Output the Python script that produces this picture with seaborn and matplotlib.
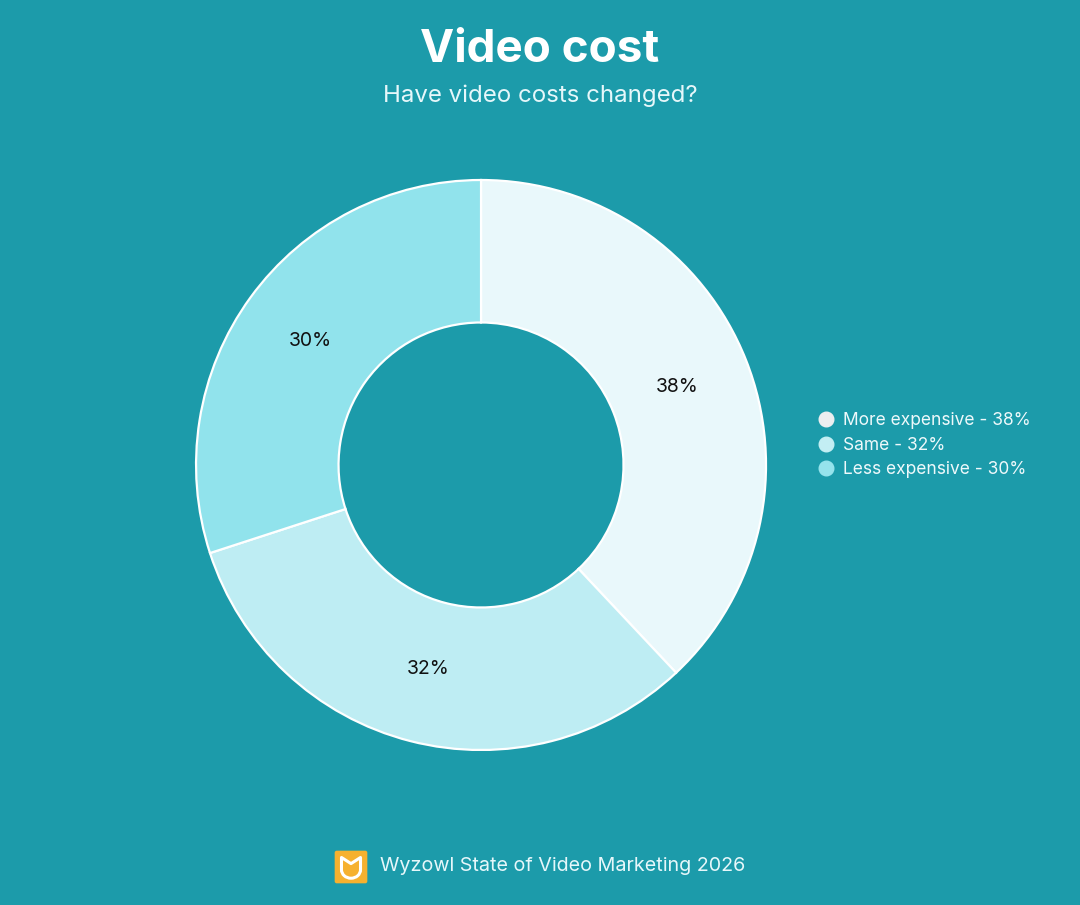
import numpy as np
import seaborn as sns
import matplotlib.pyplot as plt
from matplotlib.patches import FancyBboxPatch, Arc
from matplotlib.lines import Line2D

# data
categories = ['More expensive', 'Same', 'Less expensive']
shares = [38, 32, 30]
slice_colors = ['#E9F8FB', '#BEEDF3', '#91E3EC']
marker_colors = ['#ECEEF0', '#C3EEF3', '#95E3EC']

bg = '#1C9BAA'

sns.set_style('white', {'axes.facecolor': bg, 'figure.facecolor': bg})
plt.rcParams['font.family'] = ['Inter', 'DejaVu Sans']

fig = plt.figure(figsize=(10.8, 9.05), dpi=100)
fig.patch.set_facecolor(bg)

# donut
ax = fig.add_axes([0.1815, 0.1713, 0.5278, 0.6298])
palette = sns.color_palette(slice_colors)
wedges, texts, autotexts = ax.pie(
    shares, colors=palette, startangle=90, counterclock=False,
    autopct='%d%%', pctdistance=0.74,
    wedgeprops=dict(width=0.5, edgecolor='white', linewidth=1.6),
    textprops=dict(color='#111111', fontsize=14))
ax.set_xlim(-1.0, 1.0)
ax.set_ylim(-1.0, 1.0)
ax.set_aspect('equal')
ax.axis('off')

# titles
fig.text(0.5, 0.945, 'Video cost', ha='center', va='center',
         fontsize=33, fontweight='bold', color='white')
fig.text(0.5, 0.894, 'Have video costs changed?', ha='center', va='center',
         fontsize=17.3, color='#E6F7FA')

# legend
handles = [Line2D([0], [0], marker='o', linestyle='', markersize=10.5,
                  markerfacecolor=c, markeredgecolor=c) for c in marker_colors]
labels = [f'{c} - {v}%' for c, v in zip(categories, shares)]
leg = fig.legend(handles, labels, loc='center left', bbox_to_anchor=(0.741, 0.508),
                 frameon=False, fontsize=12.5, labelcolor='#EEF9FB',
                 handletextpad=0.35, labelspacing=0.42, handlelength=1.2)

# footer with logo
fig.text(0.352, 0.043, 'Wyzowl State of Video Marketing 2026', ha='left', va='center',
         fontsize=14.2, color='#E6F7FA')
lax = fig.add_axes([334 / 1080, (905 - 884) / 905, 34 / 1080, 34 / 905])
lax.set_xlim(0, 1)
lax.set_ylim(0, 1)
lax.axis('off')
lax.add_patch(FancyBboxPatch((0.02, 0.02), 0.96, 0.96, boxstyle='round,pad=0,rounding_size=0.06',
                             facecolor='#F6B12F', edgecolor='none'))
lax.add_patch(Arc((0.5, 0.42), 0.56, 0.5, theta1=180, theta2=360, color='white', lw=2.2))
lax.plot([0.22, 0.22, 0.5, 0.78, 0.78], [0.42, 0.78, 0.6, 0.78, 0.42], color='white', lw=2.2,
         solid_joinstyle='round')

fig.savefig('out.png', dpi=100, facecolor=bg)
